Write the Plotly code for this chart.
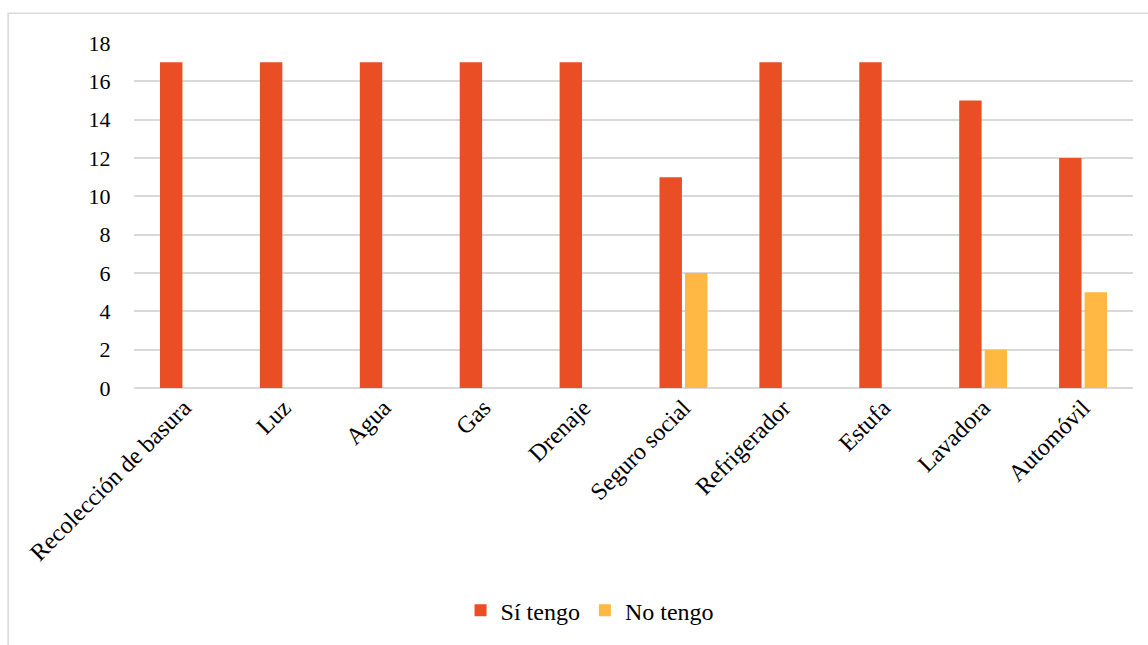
import plotly.graph_objects as go

categorias = ["Recolección de basura", "Luz", "Agua", "Gas", "Drenaje",
              "Seguro social", "Refrigerador", "Estufa", "Lavadora", "Automóvil"]
si_tengo = [17, 17, 17, 17, 17, 11, 17, 17, 15, 12]
no_tengo = [0, 0, 0, 0, 0, 6, 0, 0, 2, 5]
y_ticks = [0, 2, 4, 6, 8, 10, 12, 14, 16, 18]

FONT = "Liberation Serif"

fig = go.Figure()
fig.add_trace(go.Bar(name="Sí tengo", x=categorias, y=si_tengo,
                     marker=dict(color="#E94E24", line=dict(width=0))))
fig.add_trace(go.Bar(name="No tengo", x=categorias, y=no_tengo,
                     marker=dict(color="#FFB843", line=dict(width=0))))

# outer chart frame
fig.add_shape(type="rect", xref="paper", yref="paper",
              x0=-0.126, x1=1.03, y0=-0.78, y1=1.0865,
              line=dict(color="#D9D9D9", width=1.5), fillcolor="rgba(0,0,0,0)",
              layer="below")

fig.update_layout(
    width=1148, height=645,
    margin=dict(l=134, r=15, t=43, b=255),
    paper_bgcolor="white", plot_bgcolor="white",
    barmode="group", bargap=0.49, bargroupgap=0.12,
    font=dict(family=FONT, size=24, color="#000000"),
    showlegend=True,
    legend=dict(orientation="h", x=0.456, xanchor="center", y=-0.645, yanchor="middle",
                font=dict(family=FONT, size=24), itemwidth=30, traceorder="normal"),
    xaxis=dict(tickangle=-45, showgrid=False, showline=False, ticks="",
               tickfont=dict(family=FONT, size=24)),
    yaxis=dict(range=[0, 18], tickvals=y_ticks, showgrid=True, gridcolor="#D9D9D9",
               gridwidth=1.5, zeroline=True, zerolinecolor="#D9D9D9", zerolinewidth=1.5,
               showline=False, ticks="outside", ticklen=18, tickcolor="rgba(0,0,0,0)",
               tickfont=dict(family=FONT, size=22)),
)

fig.write_html("out.html")
